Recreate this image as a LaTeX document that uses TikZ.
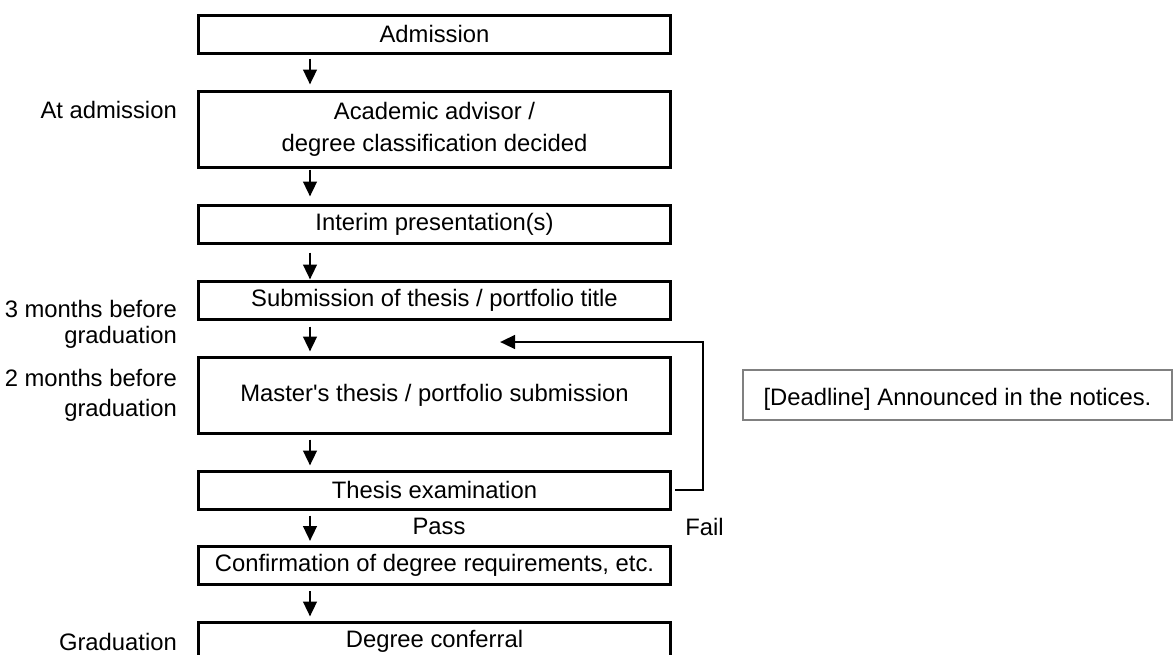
\documentclass[tikz,border=0pt]{standalone}
\usepackage{fontspec}
\setmainfont{Liberation Sans}[Ligatures=TeXOff]
\usepackage{tikz}
\usetikzlibrary{arrows.meta}
\definecolor{notegray}{RGB}{128, 128, 128}

\begin{document}
\begin{tikzpicture}[x=0.02cm, y=-0.02cm,
    font=\fontsize{13.55pt}{18.2pt}\selectfont,
    stepbox/.style={draw, line width=0.06cm, minimum width=9.46cm, minimum height=0.76cm, inner sep=0pt, align=center},
    tallbox/.style={stepbox, minimum height=1.52cm},
    flow/.style={line width=0.055cm, -{Triangle[length=0.3cm, width=0.27cm]}, shorten <=0.1cm, shorten >=0.08cm},
    when/.style={anchor=base east}]
    \useasboundingbox (0,0) rectangle (1174,654);
    \coordinate (ax) at (310,0);

    % Steps
    \node[stepbox] (adm) at (434.5,34) {Admission};
    \node[tallbox] (adv) at (434.5,129) {Academic advisor /\\degree classification decided};
    \node[stepbox] (intr) at (434.5,224) {Interim presentation(s)};
    \node[stepbox] (sub) at (434.5,300) {Submission of thesis / portfolio title};
    \node[tallbox] (mst) at (434.5,395) {Master's thesis / portfolio submission};
    \node[stepbox] (exam) at (434.5,490) {Thesis examination};
    \node[stepbox] (conf) at (434.5,565.5) {Confirmation of degree requirements, etc.};
    \node[stepbox] (deg) at (434.5,641) {Degree conferral};

    % Arrows between steps
    \draw[flow, shorten <=0.08cm, shorten >=0.1cm] (adm.south -| ax) -- (adv.north -| ax);
    \draw[flow, shorten <=0.02cm, shorten >=0.14cm] (adv.south -| ax) -- (intr.north -| ax);
    \draw[flow, shorten <=0.16cm, shorten >=0cm] (intr.south -| ax) -- (sub.north -| ax);
    \draw[flow, shorten <=0.12cm] (sub.south -| ax) -- (mst.north -| ax);
    \draw[flow] (mst.south -| ax) -- (exam.north -| ax);
    \draw[flow] (exam.south -| ax) -- (conf.north -| ax);
    \draw[flow] (conf.south -| ax) -- (deg.north -| ax);

    % Fail loop back to submission
    \coordinate (fbtop) at (703,342);
    \coordinate (fbend) at (500,342);
    \draw[flow, shorten <=0cm, shorten >=0cm] ([xshift=0.06cm]exam.east) -| (fbtop) -- (fbend);
    \node[anchor=base] (pass) at (439,534) {Pass};
    \node[anchor=base] (fail) at (704.5,535) {Fail};

    % Timing
    \node[when] (tadm) at (183,118) {At admission};
    \node[when] (t3a) at (183,317) {3 months before};
    \node[when] (t3b) at (183,343) {graduation};
    \node[when] (t2a) at (183,386) {2 months before};
    \node[when] (t2b) at (183,416) {graduation};
    \node[when] (tgrad) at (183,650) {Graduation};

    % Deadline note
    \node[draw=notegray, line width=0.04cm, minimum width=8.58cm, minimum height=1cm, inner sep=0pt, text height=1.14em, text depth=0pt] (deadline) at (957.5,395) {[Deadline] Announced in the notices.};
\end{tikzpicture}
\end{document}
